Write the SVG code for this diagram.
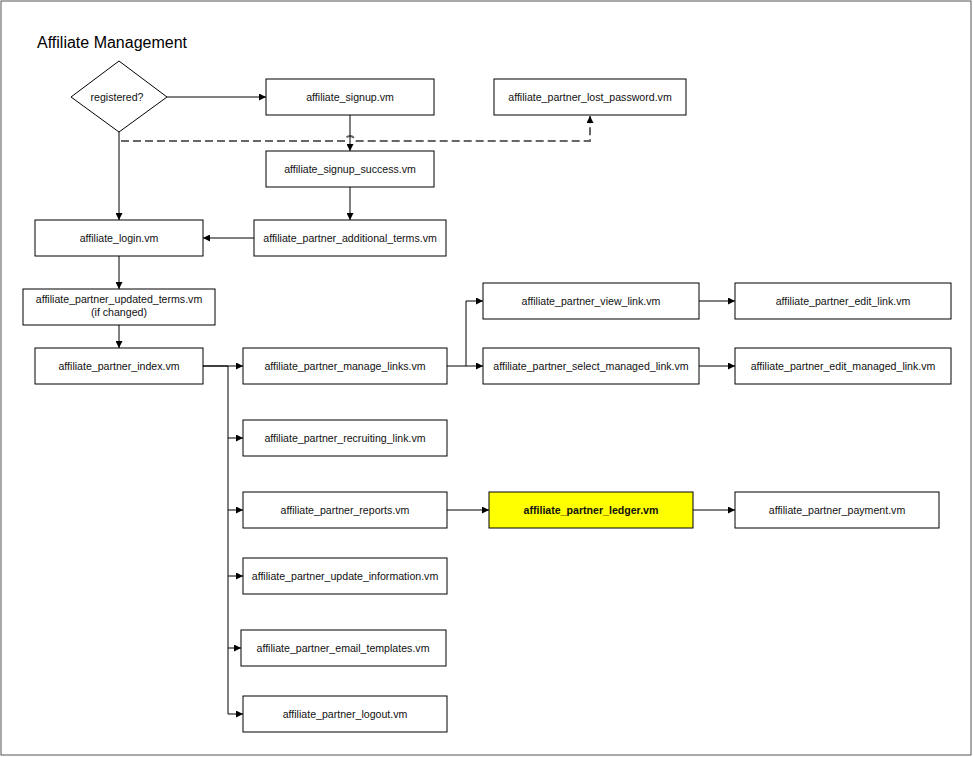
<svg xmlns="http://www.w3.org/2000/svg" width="973" height="757" viewBox="0 0 973 757">
<style>
.n rect{fill:#fff;stroke:#000;stroke-width:1}
.n text{font-family:"Liberation Sans",Arial,sans-serif;font-size:10.6px;fill:#111;text-anchor:middle}
.c path{fill:none;stroke:#000;stroke-width:1}
.c .d{stroke:#666;stroke-width:2;stroke-dasharray:8,4}
</style>
<defs>
<marker id="a" viewBox="0 0 10 10" refX="10" refY="5" markerWidth="9" markerHeight="7" markerUnits="userSpaceOnUse" orient="auto"><path d="M0,0L10,5L0,10z" fill="#000"/></marker>
</defs>
<rect x="1" y="1" width="970" height="754" fill="#fff" stroke="#555" stroke-width="1"/>
<text x="37" y="48" font-family="Liberation Sans,Arial,sans-serif" font-size="16">Affiliate Management</text>
<g class="c">
<path d="M167,97H266" marker-end="url(#a)"/>
<path d="M119,132V220" marker-end="url(#a)"/>
<path class="d" d="M121,141H345A5,5 0 0 1 355,141H590V116" marker-end="url(#a)"/>
<path d="M350,115V151" marker-end="url(#a)"/>
<path d="M350,187V220" marker-end="url(#a)"/>
<path d="M254,238H203" marker-end="url(#a)"/>
<path d="M119,256V289" marker-end="url(#a)"/>
<path d="M119,325V348" marker-end="url(#a)"/>
<path d="M203,366H228H243" marker-end="url(#a)" stroke-width="1.6"/>
<path d="M203,366H228V438H243" marker-end="url(#a)" stroke-width="1.6"/>
<path d="M228,438V510H243" marker-end="url(#a)" stroke-width="1.6"/>
<path d="M228,510V576H243" marker-end="url(#a)" stroke-width="1.6"/>
<path d="M228,576V648H241" marker-end="url(#a)" stroke-width="1.6"/>
<path d="M228,648V714H243" marker-end="url(#a)"/>
<path d="M447,366H483" marker-end="url(#a)"/>
<path d="M466,366V301H483" marker-end="url(#a)"/>
<path d="M699,301H735" marker-end="url(#a)"/>
<path d="M699,366H735" marker-end="url(#a)"/>
<path d="M447,510H489" marker-end="url(#a)"/>
<path d="M693,510H735" marker-end="url(#a)"/>
</g>
<g class="n" id="registered"><polygon points="71,97 119,61 167,97 119,132" fill="#fff" stroke="#000"/><text x="117" y="101">registered?</text></g>
<g class="n" id="signup"><rect x="266" y="79" width="168" height="36"/><text x="350" y="101">affiliate_signup.vm</text></g>
<g class="n" id="lost_password"><rect x="494" y="79" width="192" height="36"/><text x="590" y="101">affiliate_partner_lost_password.vm</text></g>
<g class="n" id="signup_success"><rect x="266" y="151" width="168" height="36"/><text x="350" y="173">affiliate_signup_success.vm</text></g>
<g class="n" id="login"><rect x="35" y="220" width="168" height="36"/><text x="119" y="242">affiliate_login.vm</text></g>
<g class="n" id="additional_terms"><rect x="254" y="220" width="192" height="36"/><text x="350" y="242">affiliate_partner_additional_terms.vm</text></g>
<g class="n" id="updated_terms"><rect x="23" y="289" width="192" height="36"/><text x="119" y="303">affiliate_partner_updated_terms.vm</text><text x="119" y="316">(if changed)</text></g>
<g class="n" id="index"><rect x="35" y="348" width="168" height="36"/><text x="119" y="370">affiliate_partner_index.vm</text></g>
<g class="n" id="manage_links"><rect x="243" y="348" width="204" height="36"/><text x="345" y="370">affiliate_partner_manage_links.vm</text></g>
<g class="n" id="view_link"><rect x="483" y="283" width="216" height="36"/><text x="591" y="305">affiliate_partner_view_link.vm</text></g>
<g class="n" id="edit_link"><rect x="735" y="283" width="216" height="36"/><text x="843" y="305">affiliate_partner_edit_link.vm</text></g>
<g class="n" id="select_managed_link"><rect x="483" y="348" width="216" height="36"/><text x="591" y="370">affiliate_partner_select_managed_link.vm</text></g>
<g class="n" id="edit_managed_link"><rect x="735" y="348" width="216" height="36"/><text x="843" y="370">affiliate_partner_edit_managed_link.vm</text></g>
<g class="n" id="recruiting_link"><rect x="243" y="420" width="204" height="36"/><text x="345" y="442">affiliate_partner_recruiting_link.vm</text></g>
<g class="n" id="reports"><rect x="243" y="492" width="204" height="36"/><text x="345" y="514">affiliate_partner_reports.vm</text></g>
<g class="n" id="ledger"><rect x="489" y="492" width="204" height="36" style="fill:#ffff00"/><text x="591" y="514" font-weight="bold">affiliate_partner_ledger.vm</text></g>
<g class="n" id="payment"><rect x="735" y="492" width="204" height="36"/><text x="837" y="514">affiliate_partner_payment.vm</text></g>
<g class="n" id="update_information"><rect x="243" y="558" width="204" height="36"/><text x="345" y="580">affiliate_partner_update_information.vm</text></g>
<g class="n" id="email_templates"><rect x="241" y="630" width="205" height="36"/><text x="343" y="652">affiliate_partner_email_templates.vm</text></g>
<g class="n" id="logout"><rect x="243" y="696" width="204" height="36"/><text x="345" y="718">affiliate_partner_logout.vm</text></g>
</svg>
